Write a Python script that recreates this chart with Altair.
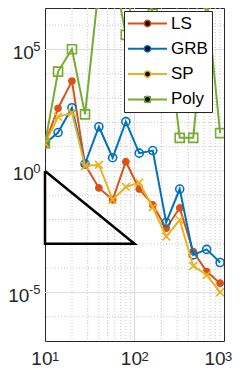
import altair as alt
import pandas as pd

# ---- data ----
x_vals = [10, 14, 20, 28, 40, 57, 80, 113, 160, 226, 320, 453, 640, 905]
ls_vals = [13.5, 380, 5000, 1.8, 0.2, 0.065, 2.4, 0.18, 0.04, 0.0044, 0.03, 4.8e-4, 7.2e-5, 2.4e-5]
grb_vals = [13.5, 38, 400, 1.95, 66, 3.5, 107, 5.4, 6.9, 0.0076, 0.18, 3.5e-4, 5.9e-4, 1.7e-4]
sp_vals = [13.5, 170, 250, 1.6, 1.8, 0.065, 0.22, 0.33, 0.032, 0.002, 0.0095, 1.23e-4, 5.2e-5, 1.02e-5]
poly_vals = [13.5, 1.23e4, 1.02e5, 214, 4.1e7, 3.0e8, 4.0e5, 6.5e8, 2.9e6, 1.1e6, 23, 23, 1.3e7, 36]

series_names = ["LS", "GRB", "SP", "Poly"]
series_colors = ["#D95319", "#0072BD", "#EDB120", "#77AC30"]
series_fills = ["#D95319", "transparent", "transparent", "transparent"]
series_shapes = ["circle", "circle", "M-1,-1L1,1M-1,1L1,-1", "square"]
marker_sizes = [38, 64, 60, 81]

tri_x = [10, 10, 100, 10]
tri_y = [1, 1e-3, 1e-3, 1]

x_ticks = [10, 100, 1000]
x_exps = ["1", "2", "3"]
y_ticks = [1e-5, 1, 1e5]
y_exps = ["-5", "0", "5"]
x_minor = [20, 30, 40, 50, 60, 70, 80, 90, 200, 300, 400, 500, 600, 700, 800, 900]
x_major = [100]
y_minor = [1e-6, 1e-4, 1e-3, 1e-2, 1e-1, 1e1, 1e2, 1e3, 1e4, 1e6]
y_major = [1e-5, 1, 1e5]

x_domain = [10, 1000]
y_domain = [1e-7, 5.1e6]

# ---- tables ----
rows = []
for name, vals in zip(series_names, [ls_vals, grb_vals, sp_vals, poly_vals]):
    for xv, yv in zip(x_vals, vals):
        rows.append({"x": xv, "y": yv, "series": name, "series2": name + " "})
df = pd.DataFrame(rows)
tri = pd.DataFrame({"x": tri_x, "y": tri_y, "k": list(range(len(tri_x)))})
xlab = pd.DataFrame({"x": x_ticks, "e": x_exps})
ylab = pd.DataFrame({"y": y_ticks, "e": y_exps})

FONT = "Liberation Sans"
TXT = "#262626"
BASE_FS = 19
EXP_FS = 13
W, H = 179, 333

xscale = alt.Scale(type="log", domain=x_domain, nice=False)
yscale = alt.Scale(type="log", domain=y_domain, nice=False)
xaxis = alt.Axis(values=x_ticks, title=None, grid=False, ticks=False, domain=False,
                 labelFontSize=BASE_FS, labelFont=FONT, labelColor=TXT, labelPadding=8,
                 labelOffset={"condition": {"test": "datum.value > 500", "value": -9.5}, "value": -3.6},
                 labelFlush=False, labelOverlap=False, labelExpr="'10'")
yaxis = alt.Axis(values=y_ticks, title=None, grid=False, ticks=False, domain=False,
                 labelFontSize=BASE_FS, labelFont=FONT, labelColor=TXT,
                 labelPadding={"condition": {"test": "datum.value < 1e-3", "value": 16.1}, "value": 11.7},
                 labelOffset=3, labelFlush=False, labelOverlap=False, labelExpr="'10'")

X = alt.X("x:Q", scale=xscale, axis=xaxis)
Y = alt.Y("y:Q", scale=yscale, axis=yaxis)

leg_lines = alt.Legend(orient="none", legendX=79, legendY=3, title=None,
                       symbolType="M-1.31,0H4.69", symbolSize=169, symbolStrokeWidth=2,
                       labelFontSize=17, labelFont=FONT, labelColor="black",
                       labelOffset=26, padding=4, rowPadding=7.3,
                       fillColor="white", strokeColor="#262626",
                       labelExpr="datum.label + ' '", zindex=1)
leg_marks = alt.Legend(orient="none", legendX=90, legendY=3, title=None,
                       symbolSize=40, symbolStrokeWidth=1.5, symbolOpacity=1,
                       labelFontSize=17, labelFont=FONT, labelExpr="''",
                       padding=4, rowPadding=7.3, zindex=2)

sort2 = [s + " " for s in series_names]
color_enc = alt.Color("series:N", scale=alt.Scale(range=series_colors), sort=series_names, legend=leg_lines)
stroke_enc = alt.Stroke("series2:N", scale=alt.Scale(range=series_colors), sort=sort2, legend=leg_marks)
fill_enc = alt.Fill("series2:N", scale=alt.Scale(range=series_fills), sort=sort2, legend=leg_marks)
shape_enc = alt.Shape("series2:N", scale=alt.Scale(range=series_shapes), sort=sort2, legend=leg_marks)

layers = []
layers.append(alt.Chart(pd.DataFrame({"x": x_minor})).mark_rule(
    color="#c9c9c9", strokeWidth=1, strokeDash=[1, 2]).encode(x=X))
layers.append(alt.Chart(pd.DataFrame({"y": y_minor})).mark_rule(
    color="#c9c9c9", strokeWidth=1, strokeDash=[1, 2]).encode(y=Y))
layers.append(alt.Chart(pd.DataFrame({"x": x_major})).mark_rule(
    color="#dedede", strokeWidth=1).encode(x=X))
layers.append(alt.Chart(pd.DataFrame({"y": y_major})).mark_rule(
    color="#dedede", strokeWidth=1).encode(y=Y))

base = alt.Chart(df)
for name, msize in zip(series_names, marker_sizes):
    sub = base.transform_filter(alt.datum.series == name)
    layers.append(sub.mark_line(strokeWidth=2, clip=True).encode(x=X, y=Y, color=color_enc))
    layers.append(sub.mark_point(size=msize, strokeWidth=1.6, opacity=1, clip=True).encode(
        x=X, y=Y, stroke=stroke_enc, fill=fill_enc, shape=shape_enc))

layers.append(alt.Chart(tri).mark_line(color="black", strokeWidth=2.5).encode(
    x=X, y=Y, order="k:Q"))

# superscript exponents of the tick labels
layers.append(alt.Chart(ylab).mark_text(align="right", baseline="alphabetic", dy=2,
                                        fontSize=EXP_FS, font=FONT, color=TXT).encode(
    x=alt.value(-4.5), y=alt.Y("y:Q", scale=yscale, axis=yaxis), text="e:N"))
xl = alt.Chart(xlab)
layers.append(xl.transform_filter(alt.datum.x < 500).mark_text(
    align="left", baseline="alphabetic", dx=7, fontSize=EXP_FS, font=FONT, color=TXT).encode(
    x=alt.X("x:Q", scale=xscale, axis=xaxis), y=alt.value(H + 20), text="e:N"))
layers.append(xl.transform_filter(alt.datum.x > 500).mark_text(
    align="left", baseline="alphabetic", dx=1.1, fontSize=EXP_FS, font=FONT, color=TXT).encode(
    x=alt.X("x:Q", scale=xscale, axis=xaxis), y=alt.value(H + 20), text="e:N"))

chart = alt.layer(*layers).properties(
    width=W, height=H,
    autosize=alt.AutoSizeParams(type="none"),
    padding={"left": 37, "top": 0, "right": 9, "bottom": 30},
    background="white",
).configure_view(stroke="#262626", strokeWidth=1)

chart.save("out.html", embed_options={"renderer": "svg", "actions": False})
